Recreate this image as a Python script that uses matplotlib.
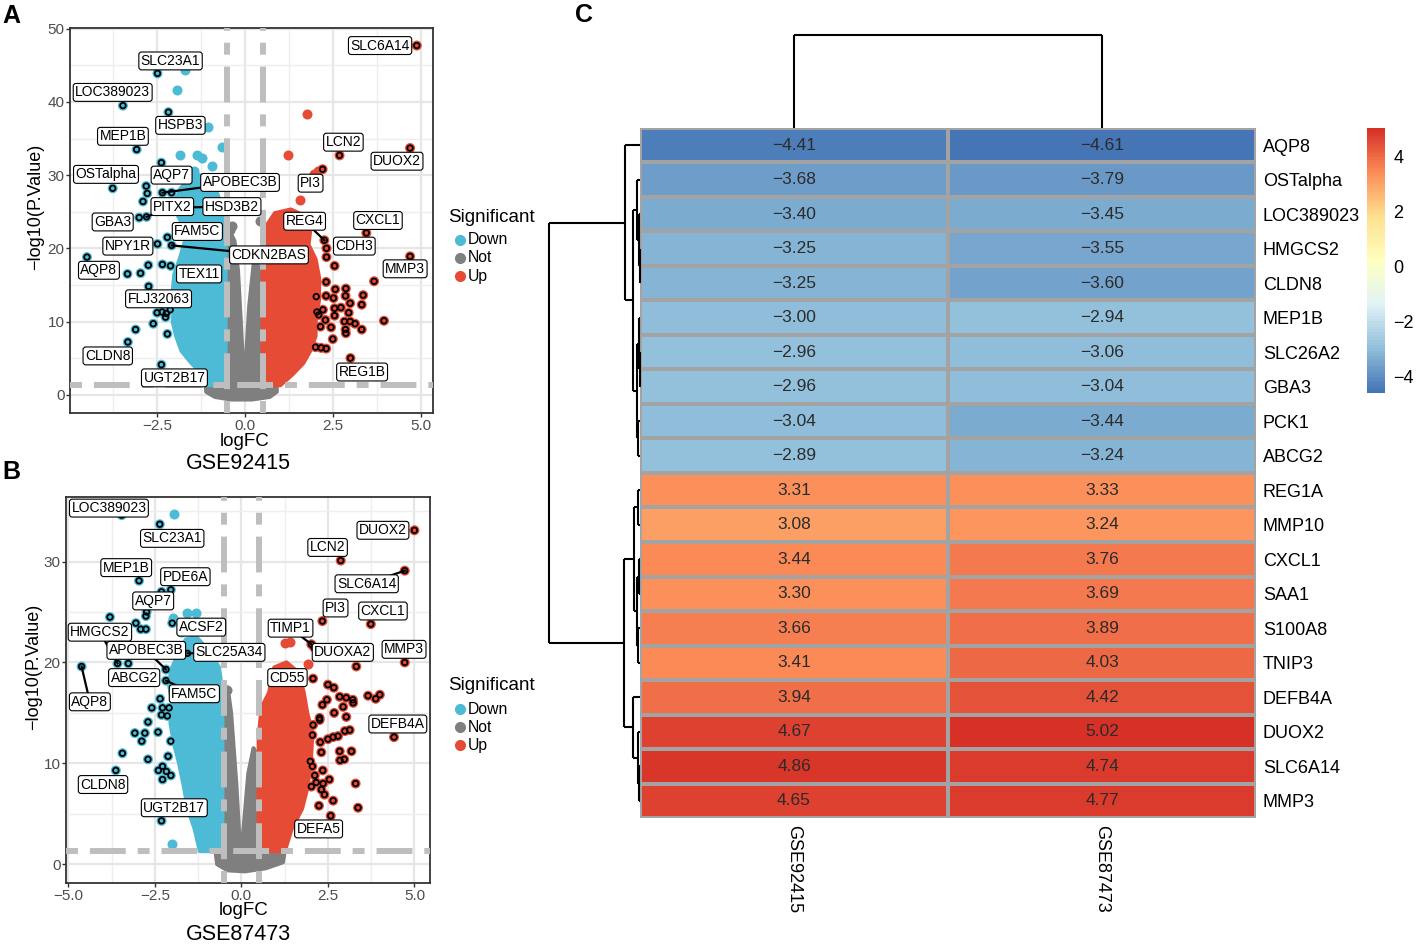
import numpy as np
import matplotlib
matplotlib.use("Agg")
import matplotlib.pyplot as plt
from matplotlib.colors import LinearSegmentedColormap
from matplotlib.cm import ScalarMappable
from matplotlib.colors import Normalize
from matplotlib.lines import Line2D

plt.rcParams['font.family'] = ['Liberation Sans', 'DejaVu Sans']

COL_DOWN = "#4DBBD5"
COL_NOT = "#7F7F7F"
COL_UP = "#E64B35"

# ---------------- panel A : GSE92415 ----------------
# outlines of the dense point clouds (logFC, -log10 p)
a_not_cloud_x = [-1.1, -1.1, -0.85, -0.4, 0.2, 0.7, 0.9, 0.9, 0.5, 0.5, 0.4, 0.25, 0.12, 0.02, -0.05, -0.12, -0.2, -0.3, -0.45, -0.6, -0.6]
a_not_cloud_y = [1.3, 0.4, -0.3, -0.65, -0.65, -0.3, 0.4, 1.3, 1.3, 14.5, 17.5, 18.0, 12.0, 4.0, 3.5, 10.0, 17.0, 21.0, 22.5, 22.0, 1.3]
a_down_cloud_x = [-0.55, -0.55, -0.62, -0.75, -0.95, -1.3, -1.6, -1.85, -2.0, -1.8, -1.7, -1.85, -2.0, -2.05, -2.0, -2.05, -1.95, -1.8, -1.55, -1.25, -1.1]
a_down_cloud_y = [1.3, 21.5, 24.0, 27.0, 29.5, 30.0, 29.5, 28.0, 25.5, 23.5, 21.0, 18.5, 16.5, 14.0, 12.0, 10.0, 8.0, 6.0, 4.5, 3.0, 1.3]
a_up_cloud_x = [0.5, 0.5, 0.6, 0.85, 1.3, 1.65, 1.85, 1.8, 2.0, 2.1, 2.1, 2.0, 2.0, 1.85, 1.65, 1.35, 1.0]
a_up_cloud_y = [1.3, 21.5, 23.0, 24.8, 25.3, 24.5, 22.5, 20.5, 18.5, 16.0, 13.0, 10.0, 8.0, 6.0, 4.3, 2.8, 1.3]

# single visible points outside the clouds
a_down_x = [-1.69, -1.92, -1.04, -0.65, -1.83, -1.35, -1.22, -0.93, -1.45, -2.0, -1.75, -1.85]
a_down_y = [44.4, 41.6, 36.6, 33.8, 32.7, 32.7, 32.3, 31.3, 30.5, 26.8, 27.6, 25.5]
a_up_x = [1.75, 1.21, 1.97, 2.08, 1.55]
a_up_y = [38.4, 32.7, 30.2, 30.5, 26.6]
a_not_x = [-0.42, -0.37, 0.42]
a_not_y = [22.5, 23.0, 23.7]

# highlighted (ringed) genes without a label
a_ring_x = [-2.8, -2.77, -2.89, -2.08, -2.11, -3.33, -2.96, -2.74, -2.49, -2.35, -2.23, -2.12, -2.25, -2.6, -3.1, -2.2,
            2.31, 2.54, 2.30, 2.56, 2.86, 3.66, 2.02, 2.30, 2.51, 2.85, 3.35, 2.98, 3.31, 2.04, 2.21, 2.09, 2.54,
            2.72, 2.94, 2.54, 2.28, 2.82, 2.98, 3.12, 2.14, 2.44, 2.85, 3.31, 2.86, 2.49, 2.0, 2.16, 2.30, 3.94]
a_ring_y = [28.5, 27.5, 26.4, 27.6, 17.6, 16.5, 16.6, 17.7, 11.2, 11.3, 11.1, 11.6, 10.6, 9.7, 8.9, 8.3,
            18.8, 17.6, 15.4, 14.4, 14.5, 15.5, 13.4, 13.5, 13.2, 13.5, 13.6, 12.5, 12.3, 11.3, 11.6, 10.9, 11.8,
            11.9, 11.2, 10.8, 10.2, 10.0, 10.0, 9.7, 9.3, 9.2, 8.9, 8.9, 8.4, 7.6, 6.5, 6.4, 6.3, 10.1]

# labelled genes
a_genes = ["SLC6A14", "SLC23A1", "LOC389023", "HSPB3", "MEP1B", "LCN2", "DUOX2", "OSTalpha", "AQP7",
           "APOBEC3B", "PI3", "PITX2", "HSD3B2", "GBA3", "REG4", "CXCL1", "FAM5C", "NPY1R", "CDH3",
           "CDKN2BAS", "AQP8", "MMP3", "TEX11", "FLJ32063", "CLDN8", "REG1B", "UGT2B17"]
a_gene_fc = [4.87, -2.48, -3.46, -2.17, -3.07, 2.68, 4.68, -3.75, -2.37, -2.34, 2.2, -2.79, -1.55, -3.0,
             2.25, 3.44, -2.2, -2.48, 2.31, -2.08, -4.48, 4.68, -2.34, -2.73, -3.32, 2.99, -2.37]
a_gene_p = [47.7, 43.9, 39.5, 38.6, 33.5, 32.7, 33.7, 28.2, 31.7, 27.6, 30.8, 24.3, 25.6, 24.2,
            21.1, 22.1, 21.5, 20.6, 20.0, 20.4, 18.8, 18.9, 17.8, 14.8, 7.2, 5.0, 4.1]

# ---------------- panel B : GSE87473 ----------------
b_not_cloud_x = [-0.75, -0.7, -0.4, 0.1, 0.7, 1.2, 1.25, 0.5, 0.5, 0.35, 0.2, 0.05, -0.05, -0.15, -0.3, -0.4, -0.6, -0.6]
b_not_cloud_y = [1.3, 0.0, -0.6, -0.7, -0.4, 0.2, 1.3, 1.3, 10.5, 11.5, 9.0, 3.0, 2.0, 8.0, 15.0, 17.5, 17.0, 1.3]
b_down_cloud_x = [-0.55, -0.55, -0.65, -0.9, -1.3, -1.6, -1.8, -2.0, -2.1, -2.0, -2.05, -1.95, -1.8, -1.65, -1.55, -1.35, -1.2]
b_down_cloud_y = [1.3, 17.0, 19.5, 21.0, 22.5, 22.3, 21.0, 19.5, 18.0, 16.0, 14.0, 12.0, 10.0, 7.5, 5.5, 3.5, 1.3]
b_up_cloud_x = [0.5, 0.5, 0.58, 0.8, 0.95, 1.3, 1.65, 1.8, 1.9, 2.05, 2.0, 1.9, 1.75, 1.45, 1.25]
b_up_cloud_y = [1.3, 12.5, 15.5, 17.0, 19.5, 20.0, 19.0, 17.0, 15.0, 13.0, 10.0, 7.5, 5.5, 3.5, 1.3]

b_down_x = [-1.94, -1.56, -1.31, -1.99, -2.0, -1.75]
b_down_y = [34.7, 24.9, 24.9, 24.4, 2.0, 23.0]
b_up_x = [1.25, 1.39, 1.92]
b_up_y = [21.9, 22.0, 19.8]
b_not_x = [-0.41]
b_not_y = [17.3]

b_ring_x = [-3.8, -3.05, -2.91, -2.76, -2.74, -2.31, -2.35, -2.59, -2.28, -2.09, -2.14, -2.31, -2.7, -2.41, -3.08,
            -2.79, -2.88, -2.04, -3.44, -2.7, -2.12, -2.28, -2.4, -2.17, -2.04, -2.28,
            3.32, 2.5, 2.67, 2.84, 3.03, 3.22, 3.66, 3.88, 4.0, 2.47, 2.26, 2.68, 3.03, 2.34, 2.94, 3.23, 2.07,
            2.26, 2.05, 2.28, 2.5, 2.65, 2.79, 2.99, 3.13, 2.31, 2.84, 3.18, 2.85, 2.97, 1.99, 2.05, 2.12, 2.02,
            2.16, 2.31, 2.36, 2.4, 2.35, 2.54, 3.3, 2.65, 2.24, 3.37]
b_ring_y = [24.5, 23.9, 23.3, 23.3, 25.0, 27.0, 16.4, 15.5, 15.5, 15.5, 14.7, 14.8, 14.1, 13.1, 13.0,
            13.0, 12.2, 12.2, 11.0, 10.4, 10.7, 9.7, 9.3, 9.2, 8.8, 8.4,
            19.6, 17.8, 17.5, 16.6, 16.5, 16.3, 16.7, 16.4, 16.8, 16.3, 14.5, 15.0, 14.6, 15.8, 15.6, 16.0, 13.8,
            14.3, 12.8, 12.1, 12.4, 12.6, 12.7, 13.2, 13.3, 11.1, 11.2, 11.2, 10.3, 10.4, 10.2, 9.7, 8.8, 7.7,
            8.1, 7.4, 8.0, 6.9, 9.3, 8.4, 8.0, 6.3, 5.8, 5.6]

b_genes = ["LOC389023", "SLC23A1", "DUOX2", "LCN2", "MEP1B", "PDE6A", "SLC6A14", "AQP7", "PI3", "CXCL1",
           "HMGCS2", "ACSF2", "TIMP1", "DUOXA2", "APOBEC3B", "SLC25A34", "MMP3", "AQP8", "ABCG2", "CD55",
           "FAM5C", "DEFB4A", "CLDN8", "UGT2B17", "DEFA5"]
b_gene_fc = [-3.46, -2.36, 5.0, 2.87, -2.96, -2.04, 4.72, -2.76, 2.34, 3.74, -3.58, -2.0, 2.02, 2.1, -2.18,
             -1.56, 4.72, -4.62, -3.27, 2.07, -2.18, 4.41, -3.63, -2.31, 2.58]
b_gene_p = [34.6, 33.7, 33.1, 30.1, 28.1, 27.2, 29.1, 24.6, 24.1, 23.8, 19.9, 23.9, 21.8, 21.5, 19.3,
            20.9, 20.0, 19.6, 19.9, 18.4, 18.2, 12.6, 9.3, 4.3, 4.8]

# ---------------- panel C : heatmap ----------------
heat_genes = ["AQP8", "OSTalpha", "LOC389023", "HMGCS2", "CLDN8", "MEP1B", "SLC26A2", "GBA3", "PCK1", "ABCG2",
              "REG1A", "MMP10", "CXCL1", "SAA1", "S100A8", "TNIP3", "DEFB4A", "DUOX2", "SLC6A14", "MMP3"]
heat_sets = ["GSE92415", "GSE87473"]
fc_gse92415 = [-4.41, -3.68, -3.40, -3.25, -3.25, -3.00, -2.96, -2.96, -3.04, -2.89,
               3.31, 3.08, 3.44, 3.30, 3.66, 3.41, 3.94, 4.67, 4.86, 4.65]
fc_gse87473 = [-4.61, -3.79, -3.45, -3.55, -3.60, -2.94, -3.06, -3.04, -3.44, -3.24,
               3.33, 3.24, 3.76, 3.69, 3.89, 4.03, 4.42, 5.02, 4.74, 4.77]

W, H = 1417, 946
fig = plt.figure(figsize=(W / 100, H / 100), dpi=100)


def px_axes(x0, y0, x1, y1):
    return fig.add_axes([x0 / W, 1 - y1 / H, (x1 - x0) / W, (y1 - y0) / H])


def ftext(x, y, s, **kw):
    fig.text(x / W, 1 - y / H, s, **kw)


def volcano(ax, clouds, singles, ring_x, ring_y, genes, gfc, gp, label_pos, links, xlim, ylim, xticks, yticks):
    for cx, cy, c in clouds:
        ax.fill(cx, cy, color=c, lw=3, joinstyle="round", zorder=1)
    for sx, sy, c in singles:
        ax.scatter(sx, sy, s=52, color=c, lw=0, zorder=2)
    gcol = [COL_UP if v > 0 else COL_DOWN for v in gfc]
    rcol = [COL_UP if v > 0 else COL_DOWN for v in ring_x]
    ax.scatter(ring_x, ring_y, s=52, color=rcol, lw=0, zorder=2)
    ax.scatter(gfc, gp, s=52, color=gcol, lw=0, zorder=2)

    dash = dict(color="#BEBEBE", lw=4.3, linestyle=(0, (2, 2, 6, 2)), zorder=3)
    ax.axvline(-0.5, **dash)
    ax.axvline(0.5, **dash)
    ax.axhline(-np.log10(0.05), **dash)

    ax.scatter(ring_x, ring_y, s=16, facecolors="none", edgecolors="black", lw=1.3, zorder=4)
    ax.scatter(gfc, gp, s=16, facecolors="none", edgecolors="black", lw=1.3, zorder=4)

    for g, x, y, (lx, ly) in zip(genes, gfc, gp, label_pos):
        if g in links:
            ax.plot([x, lx], [y, ly], color="black", lw=1.6, zorder=5)
        ax.text(lx, ly, g, ha="center", va="center", fontsize=10, zorder=6,
                bbox=dict(boxstyle="round,pad=0.14,rounding_size=0.2", fc="white", ec="black", lw=0.8))

    ax.set_xticks(xticks)
    ax.set_xticklabels([f"{v:.1f}".replace("-", "\u2212") for v in xticks])
    ax.set_yticks(yticks)
    ax.set_yticklabels([str(v) for v in yticks])
    ax.set_xticks([-3.75, -1.25, 1.25, 3.75], minor=True)
    ax.set_yticks([v + 5 for v in yticks[:-1]], minor=True)
    ax.set_xlim(*xlim)
    ax.set_ylim(*ylim)
    ax.grid(which="major", color="#E6E6E6", lw=1.6)
    ax.grid(which="minor", color="#EEEEEE", lw=1.0)
    ax.set_axisbelow(True)
    ax.tick_params(which="major", length=3, width=1, color="#333333", labelsize=11,
                   labelcolor="#4D4D4D", pad=1)
    ax.tick_params(which="minor", length=0)
    for s in ax.spines.values():
        s.set_color("#333333")
        s.set_linewidth(1.3)


def legend(x, y):
    ftext(x, y, "Significant", fontsize=13.5, ha="left", va="center")
    for i, (lab, c) in enumerate([("Down", COL_DOWN), ("Not", COL_NOT), ("Up", COL_UP)]):
        yy = y + 23 + 18 * i
        fig.add_artist(Line2D([(x + 12) / W], [1 - yy / H], marker="o", ms=7, color=c, lw=0,
                              transform=fig.transFigure))
        ftext(x + 20, yy, lab, fontsize=11.3, ha="left", va="center")


# panel A
axA = px_axes(70, 28, 433, 413)
volcano(axA,
        [(a_not_cloud_x, a_not_cloud_y, COL_NOT), (a_down_cloud_x, a_down_cloud_y, COL_DOWN),
         (a_up_cloud_x, a_up_cloud_y, COL_UP)],
        [(a_not_x, a_not_y, COL_NOT), (a_down_x, a_down_y, COL_DOWN), (a_up_x, a_up_y, COL_UP)],
        a_ring_x, a_ring_y, a_genes, a_gene_fc, a_gene_p,
        [(3.83, 47.7), (-2.11, 45.6), (-3.75, 41.3), (-1.83, 36.8), (-3.46, 35.3), (2.79, 34.5), (4.31, 31.9),
         (-3.94, 30.1), (-2.08, 30.0), (-0.14, 29.0), (1.86, 28.9), (-2.06, 25.7), (-0.37, 25.7), (-3.75, 23.6),
         (1.69, 23.7), (3.77, 23.8), (-1.35, 22.3), (-3.32, 20.3), (3.1, 20.3), (0.68, 19.1), (-4.14, 17.0),
         (4.54, 17.2), (-1.3, 16.5), (-2.45, 13.1), (-3.89, 5.3), (3.32, 3.1), (-2.0, 2.3)],
        {"APOBEC3B", "PITX2", "HSD3B2", "REG4", "CDKN2BAS"},
        (-4.96, 5.33), (-2.5, 50.1), [-2.5, 0.0, 2.5, 5.0], [0, 10, 20, 30, 40, 50])

# panel B
axB = px_axes(66, 497, 430, 883)
volcano(axB,
        [(b_not_cloud_x, b_not_cloud_y, COL_NOT), (b_down_cloud_x, b_down_cloud_y, COL_DOWN),
         (b_up_cloud_x, b_up_cloud_y, COL_UP)],
        [(b_not_x, b_not_y, COL_NOT), (b_down_x, b_down_y, COL_DOWN), (b_up_x, b_up_y, COL_UP)],
        b_ring_x, b_ring_y, b_genes, b_gene_fc, b_gene_p,
        [(-3.83, 35.3), (-2.0, 32.3), (4.09, 33.1), (2.49, 31.4), (-3.33, 29.4), (-1.62, 28.5), (3.62, 27.8),
         (-2.55, 26.1), (2.72, 25.4), (4.09, 25.1), (-4.09, 23.0), (-1.16, 23.5), (1.42, 23.4), (2.93, 21.0),
         (-2.75, 21.2), (-0.35, 21.0), (4.7, 21.3), (-4.38, 16.1), (-3.1, 18.5), (1.33, 18.5), (-1.36, 16.9),
         (4.52, 13.9), (-4.0, 7.9), (-1.94, 5.6), (2.23, 3.5)],
        {"SLC6A14", "HMGCS2", "TIMP1", "APOBEC3B", "SLC25A34", "AQP8", "FAM5C"},
        (-5.07, 5.45), (-1.86, 36.4), [-5.0, -2.5, 0.0, 2.5, 5.0], [0, 10, 20, 30, 40])

ftext(36, 207, "\u2212log10(P.Value)", rotation=90, fontsize=13, ha="center", va="center")
ftext(245, 441, "logFC", fontsize=13.5, ha="center", va="center")
ftext(238, 463, "GSE92415", fontsize=15.5, ha="center", va="center")
ftext(34, 667, "\u2212log10(P.Value)", rotation=90, fontsize=13, ha="center", va="center")
ftext(244, 910, "logFC", fontsize=13.5, ha="center", va="center")
ftext(238, 934, "GSE87473", fontsize=15.5, ha="center", va="center")
legend(448, 217)
legend(448, 686)

ftext(11, 16, "A", fontsize=18, fontweight="bold", ha="center", va="center")
ftext(11, 472, "B", fontsize=18, fontweight="bold", ha="center", va="center")
ftext(584, 15, "C", fontsize=18, fontweight="bold", ha="center", va="center")

# ---------------- heatmap ----------------
vals = np.column_stack([fc_gse92415, fc_gse87473])
vmin, vmax = vals.min(), vals.max()
cmap = LinearSegmentedColormap.from_list(
    "rdylbu", ["#4575B4", "#91BFDB", "#E0F3F8", "#FFFFBF", "#FEE090", "#FC8D59", "#D73027"], N=100)

axH = px_axes(640, 128, 1256, 818)
axH.pcolormesh(np.arange(3), np.arange(21), vals, cmap=cmap, vmin=vmin, vmax=vmax,
               edgecolors="#A3A3A3", linewidth=1.5)
axH.set_xlim(0, 2)
axH.set_ylim(20, 0)
for i in range(vals.shape[0]):
    for j in range(vals.shape[1]):
        axH.text(j + 0.5, i + 0.5, f"{vals[i, j]:.2f}".replace("-", "\u2212"), ha="center", va="center",
                 fontsize=12.5, color="#2B2B2B")
axH.yaxis.tick_right()
axH.set_yticks(np.arange(20) + 0.5)
axH.set_yticklabels(heat_genes, fontsize=13)
axH.set_xticks([0.5, 1.5])
axH.set_xticklabels(heat_sets, fontsize=13, rotation=270, ha="center", va="top")
axH.tick_params(length=0, pad=5)
for s in axH.spines.values():
    s.set_visible(False)


# dendrograms (complete linkage, euclidean, as pheatmap)
def complete_linkage(X):
    n = len(X)
    D = np.sqrt(((X[:, None, :] - X[None, :, :]) ** 2).sum(-1))
    members = {i: [i] for i in range(n)}
    pos = {i: float(i) for i in range(n)}
    hgt = {i: 0.0 for i in range(n)}
    segs = []
    nxt = n
    d = 0.0
    while len(members) > 1:
        keys = list(members)
        best = None
        for ii in range(len(keys)):
            for jj in range(ii + 1, len(keys)):
                a, b = keys[ii], keys[jj]
                dd = D[np.ix_(members[a], members[b])].max()
                if best is None or dd < best[0]:
                    best = (dd, a, b)
        d, a, b = best
        for c in (a, b):
            segs.append(((hgt[c], d), (pos[c], pos[c])))
        segs.append(((d, d), (pos[a], pos[b])))
        members[nxt] = members.pop(a) + members.pop(b)
        pos[nxt] = (pos[a] + pos[b]) / 2
        hgt[nxt] = d
        nxt += 1
    return segs, d


row_segs, row_h = complete_linkage(vals)
axR = px_axes(549, 128, 640, 818)
for (h0, h1), (p0, p1) in row_segs:
    axR.plot([h0, h1], [p0 + 0.5, p1 + 0.5], color="black", lw=1.5, clip_on=False, solid_capstyle="butt")
axR.set_xlim(row_h, 0)
axR.set_ylim(20, 0)
axR.axis("off")

col_segs, col_h = complete_linkage(vals.T)
axT = px_axes(640, 35, 1256, 128)
for (h0, h1), (p0, p1) in col_segs:
    axT.plot([p0 + 0.5, p1 + 0.5], [h0, h1], color="black", lw=1.5, clip_on=False, solid_capstyle="butt")
axT.set_xlim(0, 2)
axT.set_ylim(0, col_h)
axT.axis("off")

# colour legend
cax = px_axes(1367, 128, 1385, 393)
cb = fig.colorbar(ScalarMappable(norm=Normalize(vmin, vmax), cmap=cmap), cax=cax)
cb.outline.set_visible(False)
cb.set_ticks([-4, -2, 0, 2, 4])
cb.set_ticklabels(["\u22124", "\u22122", "0", "2", "4"])
cax.tick_params(length=0, labelsize=13, pad=6)

fig.savefig("out.png", dpi=100)
